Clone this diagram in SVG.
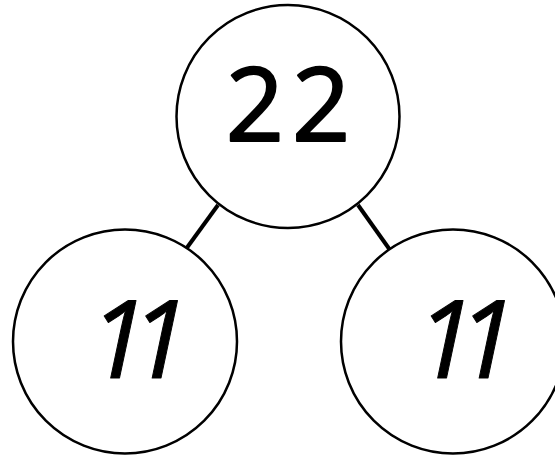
<svg xmlns="http://www.w3.org/2000/svg" width="555" height="458" viewBox="0 0 555 458">
<style>
.node circle{fill:#fff;stroke:#000;stroke-width:2.5}
.edge{stroke:#000;stroke-width:4;stroke-linecap:butt}
.num{font-family:"Open Sans","Liberation Sans",sans-serif;fill:#000;stroke:#000;stroke-width:1;stroke-linejoin:round;text-anchor:middle}
.two{stroke-width:2}
.one{font-style:italic}
</style>
<rect width="555" height="458" fill="#fff"/>
<g id="connectors">
<line class="edge" x1="218" y1="205" x2="186" y2="249"/>
<line class="edge" x1="358" y1="205" x2="390" y2="250"/>
</g>
<g id="node-top" class="node">
<circle cx="288" cy="116.5" r="111.5"/>
<text class="num two" x="292" y="141" font-size="102" letter-spacing="8">22</text>
</g>
<g id="node-left" class="node">
<circle cx="125" cy="341.5" r="112"/>
<text class="num one" x="130" y="378" font-size="108" letter-spacing="-18">11</text>
</g>
<g id="node-right" class="node">
<circle cx="453" cy="341.5" r="112"/>
<text class="num one" x="457" y="378" font-size="108" letter-spacing="-18">11</text>
</g>
</svg>
